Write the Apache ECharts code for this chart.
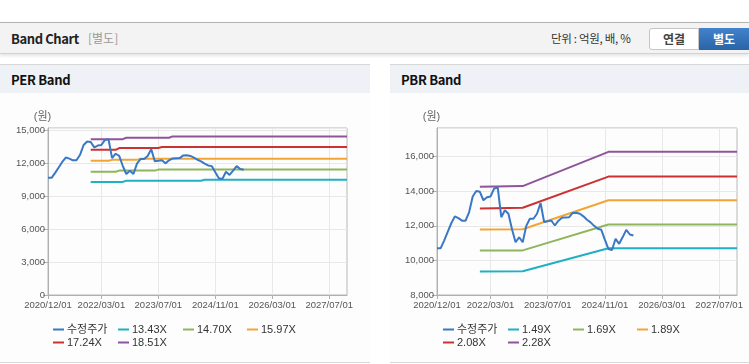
<!DOCTYPE html>
<html>
<head>
<meta charset="utf-8">
<script src="https://cdn.jsdelivr.net/npm/echarts@6/dist/echarts.min.js"></script>
<style>
  html, body { margin:0; padding:0; background:#fff; }
  body { width:749px; height:364px; position:relative; overflow:hidden; font-family:'Noto Sans CJK KR','Liberation Sans',sans-serif; }
  .topbar { position:absolute; left:0; top:22px; width:749px; height:30px; background:#f3f3f3; border-top:1px solid #b3b3b3; border-bottom:1px solid #d2d2d2; box-shadow:0 2px 3px rgba(0,0,0,0.10); }
  .topbar .title { position:absolute; left:11px; top:6px; font-size:13px; font-weight:bold; color:#222; letter-spacing:-0.4px; }
  .topbar .sub { position:absolute; left:88px; top:6px; font-size:12px; color:#999; }
  .topbar .unit { position:absolute; left:551px; top:7px; font-size:11.5px; color:#333; letter-spacing:-0.3px; }
  .btn1 { position:absolute; left:649px; top:5px; width:48px; height:20px; border:1px solid #c6c6c6; border-radius:3px 0 0 3px; background:#fff; font-size:12px; color:#444; text-align:center; line-height:20px; font-weight:bold; }
  .btn2 { position:absolute; left:699px; top:5px; width:50px; height:22px; background:linear-gradient(#4283cb,#2a63a8); font-size:12px; color:#fff; text-align:center; line-height:22px; font-weight:bold; }
  .panel { position:absolute; top:64px; height:298px; border-bottom:1px solid #d8d8d8; background:#fdfdfd; }
  .phead { position:absolute; left:0; top:0; width:100%; height:28px; background:#eef1f6; border-top:1px solid #d8d8d8; }
  .phead span { position:absolute; left:11px; top:5px; font-size:13px; font-weight:bold; color:#111; letter-spacing:-0.3px; }
  .chart { position:absolute; top:29px; height:270px; }
</style>
</head>
<body>
<div class="topbar">
  <div class="title">Band Chart</div>
  <div class="sub">[별도]</div>
  <div class="unit">단위 : 억원, 배, %</div>
  <div class="btn1">연결</div>
  <div class="btn2">별도</div>
</div>
<div class="panel" style="left:0;width:370px;">
  <div class="phead"><span>PER Band</span></div>
  <div class="chart" id="per" style="left:0;width:370px;"></div>
</div>
<div class="panel" style="left:390px;width:359px;">
  <div class="phead"><span>PBR Band</span></div>
  <div class="chart" id="pbr" style="left:0;width:359px;"></div>
</div>
<script>
// ---------- data ----------
const tickLabels = ['2020/12/01','2022/03/01','2023/07/01','2024/11/01','2026/03/01','2027/07/01'];
// monthly categories 2020/12/01 .. 2027/12/01
const categories = [];
for (let y = 2020, m = 12; y < 2028; ) {
  categories.push(y + '/' + String(m).padStart(2,'0') + '/01');
  if (y === 2027 && m === 12) break;
  m++; if (m > 12) { m = 1; y++; }
}
// 수정주가 (monthly, from 2020/12)
const price = [10700,10700,11150,11650,12150,12550,12450,12300,12300,12800,
               13700,14020,13970,13480,13650,13700,14160,14220,12500,12900,
               12700,11800,11050,11340,11050,12000,12410,12410,12700,13320,
               12220,12260,12310,12020,12300,12470,12490,12500,12750,12760,
               12700,12550,12350,12200,12000,11830,11770,11200,10660,10600,
               11250,10960,11350,11770,11500,11440];

const perNames = ['13.43X','14.70X','15.97X','17.24X','18.51X'];
const per1343 = [['2021/12/01',10330],['2022/09/01',10330],['2022/10/01',10430],['2024/07/01',10430],['2024/08/01',10520],['2027/12/01',10520]];
const per1470 = [['2021/12/01',11250],['2022/07/01',11250],['2022/08/01',11360],['2023/06/01',11360],['2023/07/01',11450],['2027/12/01',11450]];
const per1597 = [['2021/12/01',12260],['2022/05/01',12260],['2022/06/01',12340],['2023/01/01',12340],['2023/02/01',12440],['2027/12/01',12450]];
const per1724 = [['2021/12/01',13260],['2022/07/01',13260],['2022/08/01',13420],['2023/07/01',13420],['2023/08/01',13510],['2027/12/01',13510]];
const per1851 = [['2021/12/01',14230],['2022/09/01',14230],['2022/10/01',14360],['2023/10/01',14360],['2023/11/01',14480],['2027/12/01',14480]];

const pbrNames = ['1.49X','1.69X','1.89X','2.08X','2.28X'];
const pbr149 = [['2021/12/01',9360],['2022/12/01',9370],['2024/12/01',10700],['2027/12/01',10700]];
const pbr169 = [['2021/12/01',10570],['2022/12/01',10580],['2024/12/01',12080],['2027/12/01',12080]];
const pbr189 = [['2021/12/01',11790],['2022/12/01',11800],['2024/12/01',13480],['2027/12/01',13480]];
const pbr208 = [['2021/12/01',13000],['2022/12/01',13050],['2024/12/01',14850],['2027/12/01',14850]];
const pbr228 = [['2021/12/01',14260],['2022/12/01',14300],['2024/12/01',16280],['2027/12/01',16280]];

const priceName = '수정주가';
const colors = ['#3a78c6','#1fb0c4','#8fb65c','#f2a535','#cb3232','#8e559a'];

// ---------- build ----------
const showTick = (i, v) => tickLabels.indexOf(v) >= 0;
const fmt = v => Math.round(v).toLocaleString('en-US');
const FONT = "'Liberation Sans','Noto Sans CJK KR',sans-serif";

function legendList(names) {
  const pos = [[53,231],[118,231],[183,231],[247,231],[53,244],[118,244]];
  return names.map((n, i) => ({
    data: [n], left: pos[i][0], top: pos[i][1], padding: 0,
    icon: 'rect', itemWidth: 11, itemHeight: 2, itemGap: 0,
    selectedMode: false,
    textStyle: { fontSize: 11, color: '#333', fontFamily: FONT, padding: [0,0,0,-2] }
  }));
}

function makeOption(gridLeft, gridRight, yMin, yMax, yInt, bandNames, bands) {
  const series = bands.map((d, i) => ({
    name: bandNames[i], type: 'line', data: d, showSymbol: false,
    lineStyle: { width: 2, color: colors[i+1] }, itemStyle: { color: colors[i+1] },
    z: 2, animation: false
  }));
  series.unshift({
    name: priceName, type: 'line', data: price, showSymbol: false,
    lineStyle: { width: 2, color: colors[0] }, itemStyle: { color: colors[0] },
    z: 5, animation: false
  });
  return {
    animation: false,
    grid: { left: gridLeft, right: gridRight, top: 35, bottom: 68, show: true, borderColor: '#b8b8b8', borderWidth: 1, backgroundColor: 'transparent' },
    legend: legendList([priceName].concat(bandNames)),
    xAxis: {
      type: 'category', data: categories, boundaryGap: false,
      axisLine: { lineStyle: { color: '#b0b0b0' } },
      axisTick: { interval: showTick, length: 4, lineStyle: { color: '#b0b0b0' } },
      axisLabel: { interval: showTick, fontSize: 9.5, color: '#555', margin: 6, fontFamily: FONT, hideOverlap: false },
      splitLine: { show: true, interval: showTick, lineStyle: { color: '#e8e8e8' } }
    },
    yAxis: {
      type: 'value', min: yMin, max: yMax, interval: yInt,
      name: '(원)', nameLocation: 'end', nameGap: 6,
      nameTextStyle: { fontSize: 11, color: '#666', fontFamily: FONT, padding: [0, 11, 0, 0] },
      axisLine: { show: true, lineStyle: { color: '#b0b0b0' } },
      axisTick: { show: true, length: 5, lineStyle: { color: '#b0b0b0' } },
      axisLabel: { fontSize: 9.5, color: '#555', margin: 3, fontFamily: FONT, showMaxLabel: false, formatter: fmt },
      splitLine: { show: true, lineStyle: { color: '#e8e8e8' } }
    },
    series: series
  };
}

const perChart = echarts.init(document.getElementById('per'), null, { renderer: 'canvas' });
perChart.setOption(makeOption(48, 23, 0, 15250, 3000, perNames, [per1343, per1470, per1597, per1724, per1851]));

const pbrChart = echarts.init(document.getElementById('pbr'), null, { renderer: 'canvas' });
pbrChart.setOption(makeOption(47, 12, 8000, 17660, 2000, pbrNames, [pbr149, pbr169, pbr189, pbr208, pbr228]));
</script>
</body>
</html>
